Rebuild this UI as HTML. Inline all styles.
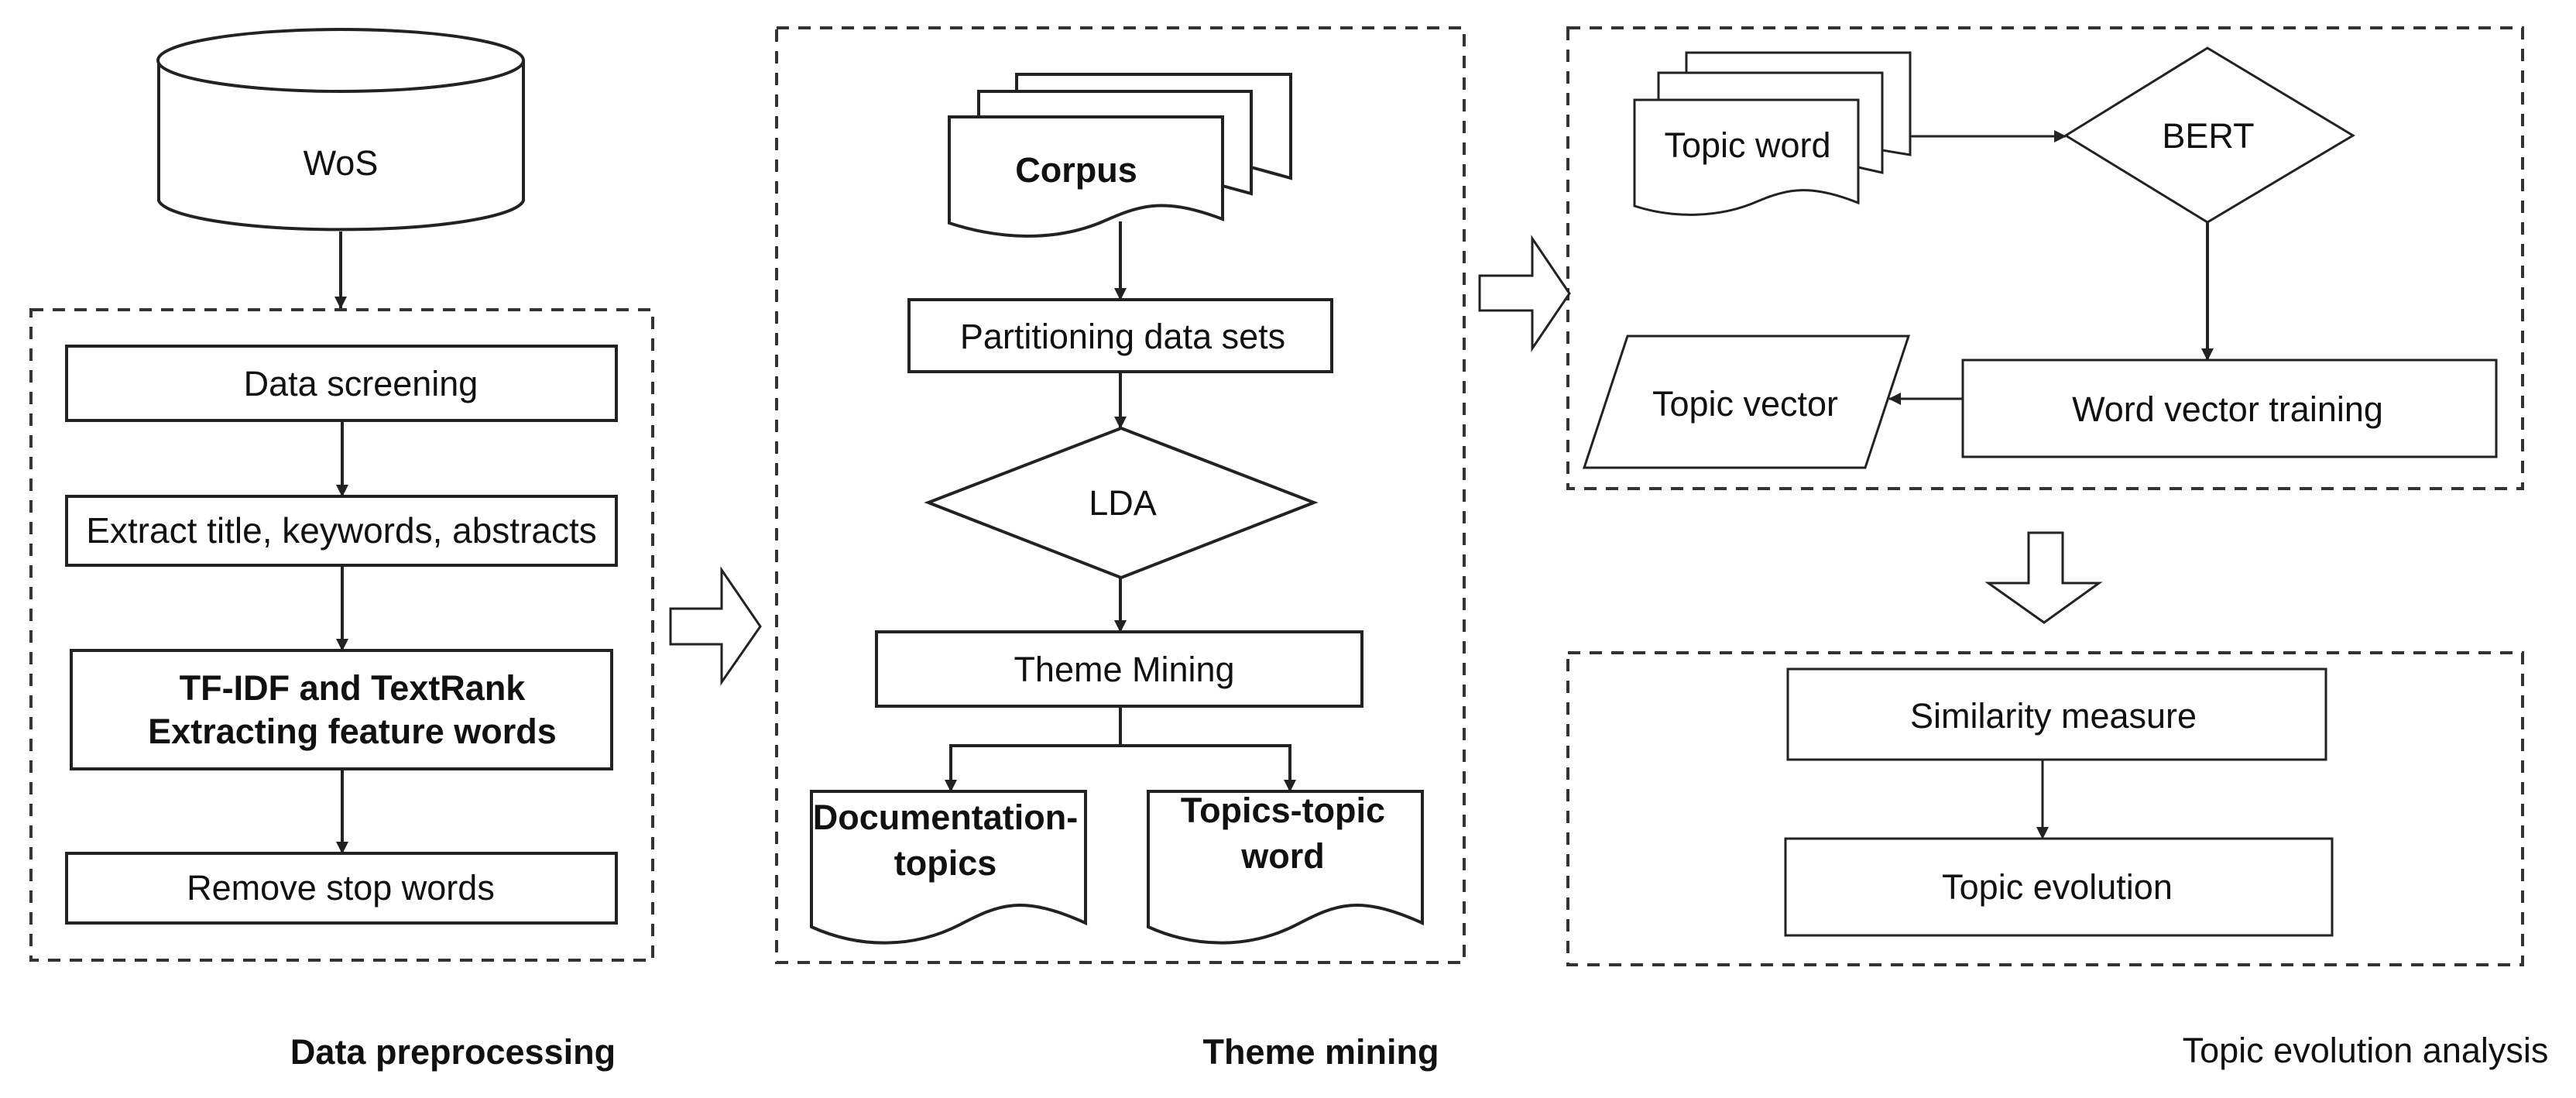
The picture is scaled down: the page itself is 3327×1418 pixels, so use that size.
<!DOCTYPE html>
<html><head><meta charset="utf-8"><style>
html,body{margin:0;padding:0;background:#fff;}
svg{display:block;}
text{font-family:"Liberation Sans",Arial,sans-serif;fill:#111;}
</style></head><body>
<svg width="3327" height="1418" viewBox="0 0 3327 1418" xmlns="http://www.w3.org/2000/svg">
<defs>
<marker id="ah" markerWidth="16" markerHeight="16" refX="15" refY="8" orient="auto" markerUnits="userSpaceOnUse" viewBox="0 0 16 16">
<path d="M0,0 L16,8 L0,16 z" fill="#222"/>
</marker>
</defs>
<rect width="3327" height="1418" fill="#fff"/>
<g fill="none" stroke="#333" stroke-width="4" stroke-dasharray="16,12">
<rect x="40" y="400" width="803" height="840"/>
<rect x="1003" y="36" width="888" height="1207"/>
<rect x="2025" y="36" width="1233" height="595"/>
<rect x="2025" y="843" width="1233" height="403"/>
</g>
<g fill="#fff" stroke="#222" stroke-width="4">
<path d="M205,78 L205,259 A236,40 0 0 0 676,259 L676,78"/>
<ellipse cx="440" cy="78" rx="236" ry="40"/>
<rect x="86" y="447" width="710" height="96"/>
<rect x="86" y="641" width="710" height="89"/>
<rect x="92" y="840" width="698" height="153"/>
<rect x="86" y="1102" width="710" height="90"/>
<path d="M866,786 L932,786 L932,736 L982,809 L932,881 L932,832 L866,832 z" stroke-width="3"/>
<path d="M1911,356 L1979,356 L1979,308 L2027,379 L1979,450 L1979,401 L1911,401 z" stroke-width="3"/>
<path d="M2620,688 L2664,688 L2664,753 L2711,753 L2640,804 L2568,753 L2620,753 z" stroke-width="3"/>
<path d="M1313,96 L1667,96 L1667,230 L1616,216 L1616,118 L1313,118 z"/>
<path d="M1264,118 L1616,118 L1616,250 L1579,240 L1579,151 L1264,151 z"/>
<path d="M1226,151 L1579,151 L1579,283 C1500,253 1470,266 1420,288 C1360,312 1290,309 1226,288 z"/>
<rect x="1174" y="387" width="546" height="93"/>
<path d="M1448,553 L1697,649 L1448,746 L1199,649 z"/>
<rect x="1132" y="816" width="627" height="96"/>
<path d="M1048,1022 L1402,1022 L1402,1192 C1320,1155 1290,1168 1240,1194 C1180,1225 1110,1225 1048,1197 z"/>
<path d="M1483,1022 L1837,1022 L1837,1192 C1755,1155 1725,1168 1675,1194 C1615,1225 1545,1225 1483,1197 z"/>
<path d="M2178,68 L2467,68 L2467,200 L2431,194 L2431,94 L2178,94 z" stroke-width="3"/>
<path d="M2142,94 L2431,94 L2431,223 L2400,216 L2400,129 L2142,129 z" stroke-width="3"/>
<path d="M2111,129 L2400,129 L2400,262 C2340,238 2310,243 2270,260 C2220,282 2160,282 2111,266 z" stroke-width="3"/>
<path d="M2668,175 L2851,62 L3039,175 L2851,287 z" stroke-width="3"/>
<rect x="2535" y="465" width="689" height="125" stroke-width="3"/>
<path d="M2102,434 L2465,434 L2409,604 L2046,604 z" stroke-width="3"/>
<rect x="2309" y="864" width="695" height="117" stroke-width="3"/>
<rect x="2306" y="1083" width="706" height="125" stroke-width="3"/>
</g>
<g stroke="#222" stroke-width="4" fill="none" marker-end="url(#ah)">
<line x1="440" y1="299" x2="440" y2="398"/>
<line x1="442" y1="543" x2="442" y2="641"/>
<line x1="442" y1="730" x2="442" y2="840"/>
<line x1="442" y1="993" x2="442" y2="1102"/>
<line x1="1447" y1="286" x2="1447" y2="387"/>
<line x1="1447" y1="480" x2="1447" y2="553"/>
<line x1="1447" y1="746" x2="1447" y2="816"/>
<path d="M1447,912 L1447,963 L1228,963 L1228,1022"/>
<path d="M1447,963 L1666,963 L1666,1022"/>
<line x1="2467" y1="176" x2="2668" y2="176" stroke-width="3"/>
<line x1="2851" y1="287" x2="2851" y2="465"/>
<line x1="2535" y1="515" x2="2440" y2="515" stroke-width="3"/>
<line x1="2638" y1="981" x2="2638" y2="1083" stroke-width="3"/>
</g>
<g font-size="45" text-anchor="middle">
<text x="440" y="226">WoS</text>
<text x="466" y="511">Data screening</text>
<text x="441" y="701" font-size="46">Extract title, keywords, abstracts</text>
<text x="455" y="904" font-weight="bold">TF-IDF and TextRank</text>
<text x="455" y="960" font-weight="bold">Extracting feature words</text>
<text x="440" y="1162">Remove stop words</text>
<text x="1390" y="235" font-weight="bold">Corpus</text>
<text x="1450" y="450">Partitioning data sets</text>
<text x="1450" y="665">LDA</text>
<text x="1452" y="880">Theme Mining</text>
<text x="1221" y="1071" font-weight="bold">Documentation-</text>
<text x="1221" y="1130" font-weight="bold">topics</text>
<text x="1657" y="1062" font-weight="bold">Topics-topic</text>
<text x="1657" y="1121" font-weight="bold">word</text>
<text x="2257" y="203">Topic word</text>
<text x="2852" y="191">BERT</text>
<text x="2254" y="537">Topic vector</text>
<text x="2877" y="544">Word vector training</text>
<text x="2652" y="940">Similarity measure</text>
<text x="2657" y="1161">Topic evolution</text>
<text x="585" y="1374" font-weight="bold">Data preprocessing</text>
<text x="1706" y="1374" font-weight="bold">Theme mining</text>
<text x="3055" y="1372">Topic evolution analysis</text>
</g>
</svg>
</body></html>
